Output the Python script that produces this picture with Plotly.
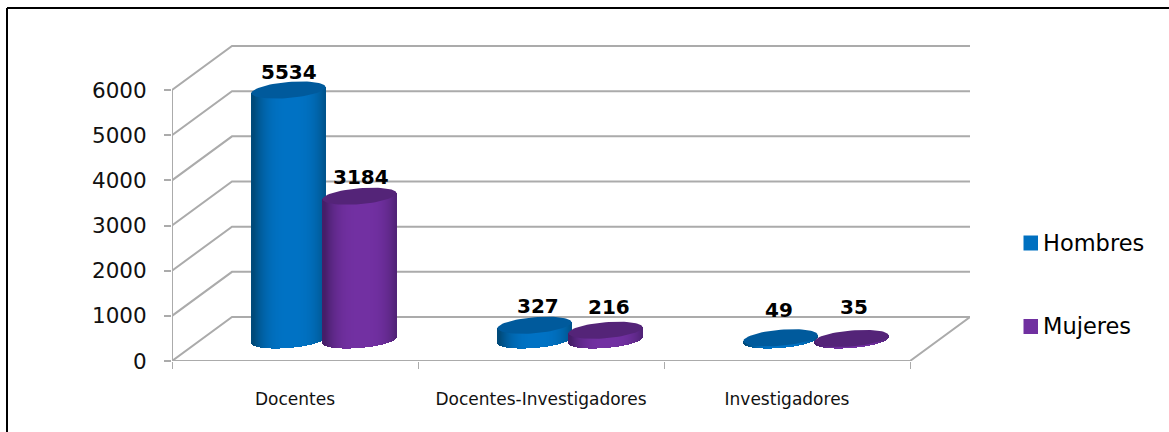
import numpy as np
import plotly.graph_objects as go

categories = ["Docentes", "Docentes-Investigadores", "Investigadores"]
hombres = [5534, 327, 49]
mujeres = [3184, 216, 35]
y_ticks = [0, 1000, 2000, 3000, 4000, 5000, 6000]
series_names = ["Hombres", "Mujeres"]
series_colors = ["#0070c0", "#7030a0"]

# layout geometry (pixels of the 1169x432 canvas)
W, H = 1169, 432
L, R, T, B = 172, 199, 45, 71
PW, PH = W - L - R, H - T - B
CAT_PX = 246.0
Y_PX = 271.0 / 6000
xmax = PW / CAT_PX
ymax = PH / Y_PX
px_x = lambda p: p / CAT_PX
px_y = lambda p: p / Y_PX
DX, DZ = px_x(60), px_y(44)
paper_x = lambda p: (p - L) / PW
paper_y = lambda p: (H - B - p) / PH

BLUE, BLUE_D, BLUE_T = (0, 114, 196), (0, 74, 122), (0, 90, 156)
PURP, PURP_D, PURP_T = (114, 48, 162), (70, 30, 105), (84, 36, 120)
rgb = lambda c: "rgb(%d,%d,%d)" % tuple(int(round(v)) for v in c)

GREY = "#ababab"


def wall_path():
    segs = []
    for v in y_ticks:
        segs.append(f"M 0 {v} L {DX} {v + DZ} L {3 + DX} {v + DZ}")
    segs.append(f"M 0 0 L 3 0 L {3 + DX} {DZ}")
    segs.append(f"M 0 0 L 0 {y_ticks[-1]}")
    return " ".join(segs)


shapes = [
    dict(type="path", path=wall_path(), xref="x", yref="y", layer="below",
         line=dict(color=GREY, width=2)),
    dict(type="line", xref="paper", yref="paper",
         x0=paper_x(7), x1=paper_x(W), y0=paper_y(8), y1=paper_y(8),
         line=dict(color="black", width=2)),
    dict(type="line", xref="paper", yref="paper",
         x0=paper_x(7), x1=paper_x(7), y0=paper_y(8), y1=paper_y(H),
         line=dict(color="black", width=2)),
]
# legend swatches
for col, cy in zip(series_colors, [243, 326.5]):
    shapes.append(dict(type="rect", xref="paper", yref="paper", line=dict(width=0), fillcolor=col,
                       x0=paper_x(1023.5), x1=paper_x(1038), y0=paper_y(cy + 7.5), y1=paper_y(cy - 7.5)))

fig = go.Figure()

A_PX, B_PX, TILT_PX = 37.0, 8.0, 3.0
BASE = px_y(21)


def cylinder(values, offset_px, mid, dark, top, name):
    n = int(A_PX * 2)
    us = (np.arange(n) + 0.5) / n * 2 - 1
    xs, bases, heights, colors = [], [], [], []
    for i, v in enumerate(values):
        cx = i + px_x(offset_px)
        for u in us:
            xs.append(cx + px_x(A_PX) * u)
            tilt = px_y(TILT_PX) * u
            low = BASE + tilt - px_y(B_PX) * np.sqrt(1 - u * u)
            up = BASE + v + tilt
            bases.append(low)
            heights.append(up - low)
            w = 1 - abs(u - 0.08) ** 3
            w = max(0.0, min(1.0, w))
            colors.append(rgb([d + (m - d) * w for m, d in zip(mid, dark)]))
    fig.add_trace(go.Bar(x=xs, y=heights, base=bases, width=px_x(1.3),
                         marker=dict(color=colors, line=dict(width=0)),
                         showlegend=False, hoverinfo="skip", name=name))
    t = np.linspace(0, 2 * np.pi, 73)
    for i, v in enumerate(values):
        cx = i + px_x(offset_px)
        ex = cx + px_x(A_PX) * np.cos(t)
        ey = BASE + v + px_y(TILT_PX) * np.cos(t) + px_y(B_PX) * np.sin(t)
        fig.add_trace(go.Scatter(x=ex, y=ey, mode="lines", fill="toself",
                                 fillcolor=rgb(top), line=dict(width=0),
                                 showlegend=False, hoverinfo="skip", name=name))


cylinder(hombres, 116.5, BLUE, BLUE_D, BLUE_T, series_names[0])
cylinder(mujeres, 187.5, PURP, PURP_D, PURP_T, series_names[1])

# legend entries (swatches are the rects above, placed closer to the text)
for nm in series_names:
    fig.add_trace(go.Scatter(x=[None], y=[None], mode="markers", name=nm, legendgroup=nm,
                             marker=dict(symbol="square", size=14, color="rgba(0,0,0,0)",
                                         line=dict(width=0))))

# data labels
annotations = []
shift_h = [18, 19, 28]
shift_m = [19, 23, 31]
xshift_h = [0, 3, -2]
xshift_m = [1, 3, 2]
for i in range(3):
    for vals, off, sh, xs in ((hombres, 116.5, shift_h, xshift_h), (mujeres, 187.5, shift_m, xshift_m)):
        annotations.append(dict(x=i + px_x(off), y=BASE + vals[i], xref="x", yref="y",
                                text=str(vals[i]), showarrow=False, yshift=sh[i], xshift=xs[i],
                                font=dict(family="DejaVu Sans", size=20, color="black", weight="bold")))

fig.update_layout(
    width=W, height=H, margin=dict(l=L, r=R, t=T, b=B, pad=0),
    paper_bgcolor="white", plot_bgcolor="white", barmode="overlay", bargap=0,
    shapes=shapes, annotations=annotations,
    font=dict(family="DejaVu Sans", color="black"),
    showlegend=True,
    legend=dict(x=paper_x(1003), xanchor="left", y=paper_y(221), yanchor="top",
                tracegroupgap=51, font=dict(size=22.5), bgcolor="rgba(0,0,0,0)",
                itemwidth=30),
    xaxis=dict(range=[0, xmax], tickmode="array", tickvals=[0.5, 1.5, 2.5], ticktext=categories,
               ticks="outside", ticklen=23, tickcolor="rgba(0,0,0,0)", showgrid=False, zeroline=False,
               showline=False, tickfont=dict(size=17, color="#111"),
               minor=dict(tickmode="array", tickvals=[0, 1, 2, 3], ticks="outside", ticklen=7,
                          tickcolor=GREY, tickwidth=1, showgrid=False)),
    yaxis=dict(range=[0, ymax], tickmode="array", tickvals=y_ticks, ticks="outside", ticklen=7,
               ticklabelstandoff=13,
               tickcolor=GREY, tickwidth=2, showgrid=False, zeroline=False, showline=False,
               tickfont=dict(size=21.5, color="#111")),
)

fig.write_html("out.html", config=dict(displayModeBar=False),
               post_script="document.body.style.margin='0';")
